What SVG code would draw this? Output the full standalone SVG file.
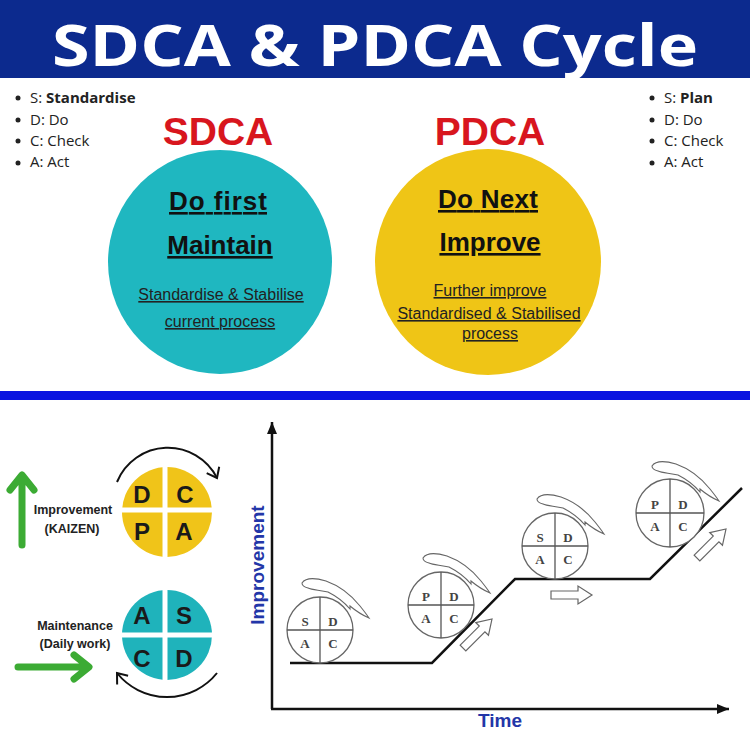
<svg xmlns="http://www.w3.org/2000/svg" width="750" height="750" viewBox="0 0 750 750">
<style>
.bul{font-family:"Open Sans","Liberation Sans",sans-serif;font-size:15px;fill:#222}
.b{font-weight:700}
.ttl{font-family:"Liberation Sans",Arial,sans-serif;font-weight:700;font-size:39px;fill:#d8161e;text-anchor:middle}
.big{font-family:"Liberation Sans",Arial,sans-serif;font-weight:700;font-size:26px;fill:#111;text-anchor:middle;text-decoration:underline}
.sm{font-family:"Liberation Sans",Arial,sans-serif;font-size:16px;fill:#222;text-anchor:middle;text-decoration:underline}
.lab{font-family:"Liberation Sans",Arial,sans-serif;font-weight:700;font-size:12.5px;fill:#222;text-anchor:middle}
.ql{font-family:"Liberation Sans",Arial,sans-serif;font-weight:700;font-size:24px;fill:#1a1a1a;text-anchor:middle}
.gap{stroke:#fff;stroke-width:5}
.rc{fill:#fff;stroke:#666;stroke-width:1.3}
.rl{stroke:#555;stroke-width:1.3}
.rt{font-family:"Liberation Serif","Times New Roman",serif;font-weight:700;font-size:13px;fill:#444;text-anchor:middle}
.sw{fill:#fff;stroke:#666;stroke-width:1.1}
.ha{fill:#fff;stroke:#666;stroke-width:1.2}
.grn{stroke:#3cab34;stroke-width:7;fill:none;stroke-linecap:round;stroke-linejoin:round}
.axis{stroke:#111;stroke-width:2.5;fill:none}
.ax{font-family:"Liberation Sans",Arial,sans-serif;font-weight:700;font-size:19px;fill:#2336a8;text-anchor:middle}
</style>
<defs>
<marker id="ah" markerUnits="userSpaceOnUse" markerWidth="14" markerHeight="14" refX="12" refY="7" orient="auto">
<path d="M0,2 L12,7 L0,12 Z" fill="#111"/>
</marker>
<marker id="chev" markerUnits="userSpaceOnUse" markerWidth="20" markerHeight="20" refX="11" refY="10" orient="auto">
<path d="M2,3 L11,10 L2,17" fill="none" stroke="#111" stroke-width="2"/>
</marker>
<path id="swoosh" d="M-18,-47 C-14,-53 -4,-52 6,-49 C20,-44 32,-34 40,-24 C44,-19 47,-15 49,-12 C42,-15 36,-19 30,-24 L30,-21 C24,-28 16,-34 8,-38 C0,-40 -8,-40 -12,-42 C-16,-43 -18,-44 -18,-47 Z"/>
<path id="harrow" d="M0,-4 L27,-4 L27,-9 L41,0 L27,9 L27,4 L0,4 Z"/>
</defs>

<rect width="750" height="750" fill="#fff"/>

<g id="header">
<rect x="0" y="0" width="750" height="78" fill="#0c2a8e"/>
<text x="375" y="66" font-family="'Open Sans','Liberation Sans',sans-serif" font-weight="700" font-size="57" fill="#fff" text-anchor="middle" textLength="646" lengthAdjust="spacingAndGlyphs">SDCA &amp; PDCA Cycle</text>
</g>

<g id="sdca-legend">
<circle cx="18" cy="98" r="2.5" fill="#222"/>
<circle cx="18" cy="120" r="2.5" fill="#222"/>
<circle cx="18" cy="141" r="2.5" fill="#222"/>
<circle cx="18" cy="163" r="2.5" fill="#222"/>
<text class="bul" x="30" y="103">S: <tspan class="b">Standardise</tspan></text>
<text class="bul" x="30" y="125">D: Do</text>
<text class="bul" x="30" y="146">C: Check</text>
<text class="bul" x="30" y="167">A: Act</text>
</g>

<g id="pdca-legend">
<circle cx="652" cy="98" r="2.5" fill="#222"/>
<circle cx="652" cy="120" r="2.5" fill="#222"/>
<circle cx="652" cy="141" r="2.5" fill="#222"/>
<circle cx="652" cy="163" r="2.5" fill="#222"/>
<text class="bul" x="664" y="103">S: <tspan class="b">Plan</tspan></text>
<text class="bul" x="664" y="125">D: Do</text>
<text class="bul" x="664" y="146">C: Check</text>
<text class="bul" x="664" y="167">A: Act</text>
</g>

<g id="sdca-circle">
<text class="ttl" x="218" y="145">SDCA</text>
<circle cx="220" cy="262" r="112" fill="#1fb7c0"/>
<text class="big" x="218" y="210" textLength="98">Do first</text>
<text class="big" x="220" y="254">Maintain</text>
<text class="sm" x="221" y="300">Standardise &amp; Stabilise</text>
<text class="sm" x="220" y="327">current process</text>
</g>

<g id="pdca-circle">
<text class="ttl" x="490" y="145">PDCA</text>
<circle cx="488" cy="262" r="113" fill="#efc516"/>
<text class="big" x="488" y="208" textLength="100">Do Next</text>
<text class="big" x="490" y="251">Improve</text>
<text class="sm" x="490" y="296">Further improve</text>
<text class="sm" x="489" y="319">Standardised &amp; Stabilised</text>
<text class="sm" x="490" y="339">process</text>
</g>

<rect id="divider" x="0" y="391" width="750" height="9" fill="#0a14e0"/>

<g id="improvement-kaizen">
<path class="grn" d="M22,545 L22,476 M10,490 L22,475 L34,490"/>
<text class="lab" x="73" y="514">Improvement</text>
<text class="lab" x="72" y="533">(KAIZEN)</text>
</g>

<g id="pdca-small">
<circle cx="167" cy="512" r="45" fill="#f0c419"/>
<line class="gap" x1="120" y1="510" x2="214" y2="510"/>
<line class="gap" x1="165" y1="465" x2="165" y2="559"/>
<text class="ql" x="142" y="503">D</text>
<text class="ql" x="185" y="503">C</text>
<text class="ql" x="142" y="540">P</text>
<text class="ql" x="184" y="540">A</text>
</g>

<g id="maintenance">
<path class="grn" d="M18,667 L88,667 M74,655 L89,667 L74,679"/>
<text class="lab" x="75" y="630">Maintenance</text>
<text class="lab" x="75" y="648">(Daily work)</text>
</g>

<g id="sdca-small">
<circle cx="167" cy="635" r="45" fill="#1fb3bb"/>
<line class="gap" x1="120" y1="635" x2="214" y2="635"/>
<line class="gap" x1="165" y1="588" x2="165" y2="682"/>
<text class="ql" x="142" y="624">A</text>
<text class="ql" x="184" y="624">S</text>
<text class="ql" x="142" y="667">C</text>
<text class="ql" x="184" y="667">D</text>
</g>

<g id="connectors">
<path d="M117,482 A55,55 0 0 1 217,478" fill="none" stroke="#111" stroke-width="2" marker-end="url(#chev)"/>
<path d="M217,673 A64,64 0 0 1 117,673" fill="none" stroke="#111" stroke-width="2" marker-end="url(#chev)"/>
<line class="axis" x1="272" y1="709" x2="272" y2="422" marker-end="url(#ah)"/>
<line class="axis" x1="271" y1="709" x2="729" y2="709" marker-end="url(#ah)"/>
<polyline class="axis" points="290,663 432,663 515,579 650,579 742,488"/>
<use href="#harrow" class="ha" transform="translate(463,648) rotate(-45)"/>
<use href="#harrow" class="ha" transform="translate(551,595)"/>
<use href="#harrow" class="ha" transform="translate(697,558) rotate(-45)"/>
</g>

<g id="axis-labels">
<text class="ax" transform="translate(264,565) rotate(-90)">Improvement</text>
<text class="ax" x="500" y="727">Time</text>
</g>

<g id="roll-1" transform="translate(320,630)">
<use href="#swoosh" class="sw"/>
<circle class="rc" r="33"/>
<line class="rl" x1="-33" y1="0" x2="33" y2="0"/>
<line class="rl" x1="0" y1="-33" x2="0" y2="33"/>
<text class="rt" x="-15" y="-4">S</text><text class="rt" x="13" y="-4">D</text>
<text class="rt" x="-15" y="18">A</text><text class="rt" x="13" y="18">C</text>
</g>
<g id="roll-2" transform="translate(441,605)">
<use href="#swoosh" class="sw"/>
<circle class="rc" r="33"/>
<line class="rl" x1="-33" y1="0" x2="33" y2="0"/>
<line class="rl" x1="0" y1="-33" x2="0" y2="33"/>
<text class="rt" x="-15" y="-4">P</text><text class="rt" x="13" y="-4">D</text>
<text class="rt" x="-15" y="18">A</text><text class="rt" x="13" y="18">C</text>
</g>
<g id="roll-3" transform="translate(555,546)">
<use href="#swoosh" class="sw"/>
<circle class="rc" r="33"/>
<line class="rl" x1="-33" y1="0" x2="33" y2="0"/>
<line class="rl" x1="0" y1="-33" x2="0" y2="33"/>
<text class="rt" x="-15" y="-4">S</text><text class="rt" x="13" y="-4">D</text>
<text class="rt" x="-15" y="18">A</text><text class="rt" x="13" y="18">C</text>
</g>
<g id="roll-4" transform="translate(670,513)">
<use href="#swoosh" class="sw"/>
<circle class="rc" r="34"/>
<line class="rl" x1="-34" y1="0" x2="34" y2="0"/>
<line class="rl" x1="0" y1="-34" x2="0" y2="34"/>
<text class="rt" x="-15" y="-4">P</text><text class="rt" x="13" y="-4">D</text>
<text class="rt" x="-15" y="18">A</text><text class="rt" x="13" y="18">C</text>
</g>
</svg>
